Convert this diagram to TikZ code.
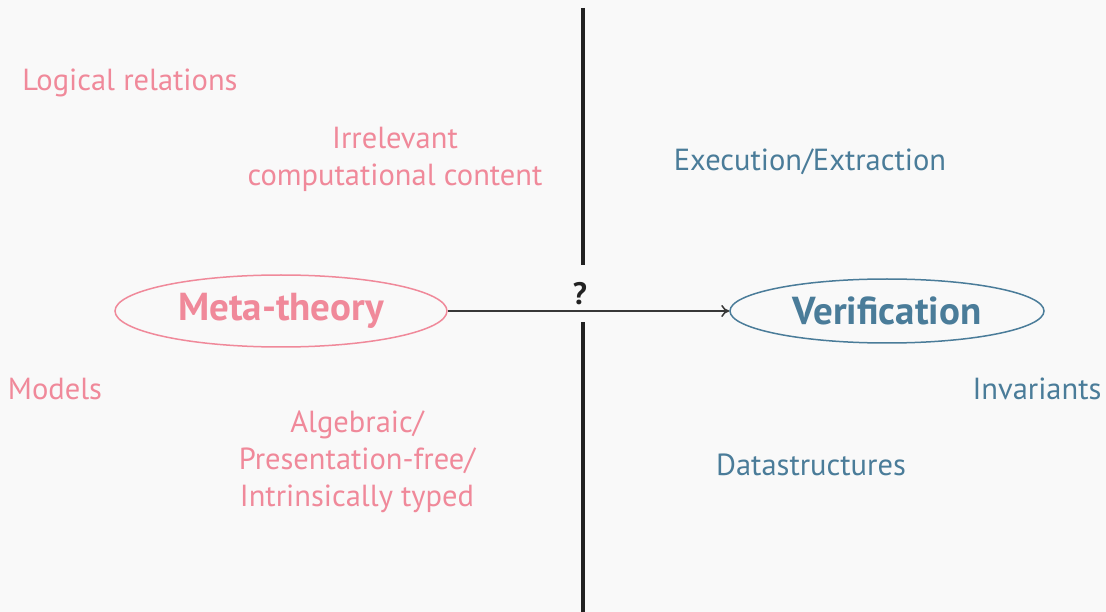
\documentclass[tikz,border=0pt]{standalone}
\usepackage{fontspec}
\setmainfont{PT Sans}
\usetikzlibrary{shapes.geometric,arrows.meta}
\definecolor{bgc}{HTML}{F9F9F9}
\definecolor{pinkc}{HTML}{F0899A}
\definecolor{bluec}{HTML}{4A7C99}
\definecolor{barc}{HTML}{222222}
\tikzset{
  pinktxt/.style={text=pinkc, font=\fontsize{30.5}{37}\selectfont, align=center, inner sep=0pt},
  bluetxt/.style={text=bluec, font=\fontsize{30.5}{37}\selectfont, align=center, inner sep=0pt},
  bigell/.style={ellipse, draw, line width=1.5pt, inner sep=0pt, font=\fontsize{39}{44}\selectfont\bfseries},
}
\begin{document}
\begin{tikzpicture}[x=1pt,y=-1pt]
\fill[bgc] (0,0) rectangle (1106,612);
\useasboundingbox (0,0) rectangle (1106,612);
\coordinate (vtop) at (583,8);
\coordinate (vbot) at (583,612);
\draw[barc, line width=4pt] (vtop) -- (vbot);
\node[bigell, draw=pinkc, text=pinkc, minimum width=332pt, minimum height=72pt] (meta) at (281,311) {Meta-theory};
\node[bigell, draw=bluec, text=bluec, minimum width=314pt, minimum height=64pt] (ver) at (887,311) {Verification};
\node[fill=bgc, font=\fontsize{31}{33}\selectfont\rmfamily\bfseries, text=barc, inner sep=0pt, minimum width=36pt, minimum height=57pt] (q) at (580,293.5) {?};
\draw[barc!90, line width=1.5pt, -{To[length=8pt,width=12pt]}] (meta) -- (ver);
\node[pinktxt] (lr) at (130,83) {Logical relations};
\node[pinktxt] (irr) at (395,159) {Irrelevant\\computational content};
\node[pinktxt] (mod) at (55,389) {Models};
\node[pinktxt] (alg) at (357,462) {Algebraic/\\Presentation-free/\\Intrinsically typed};
\node[bluetxt] (ee) at (810,162) {Execution/Extraction};
\node[bluetxt] (inv) at (1037,389) {Invariants};
\node[bluetxt] (ds) at (811,465) {Datastructures};
\end{tikzpicture}
\end{document}
